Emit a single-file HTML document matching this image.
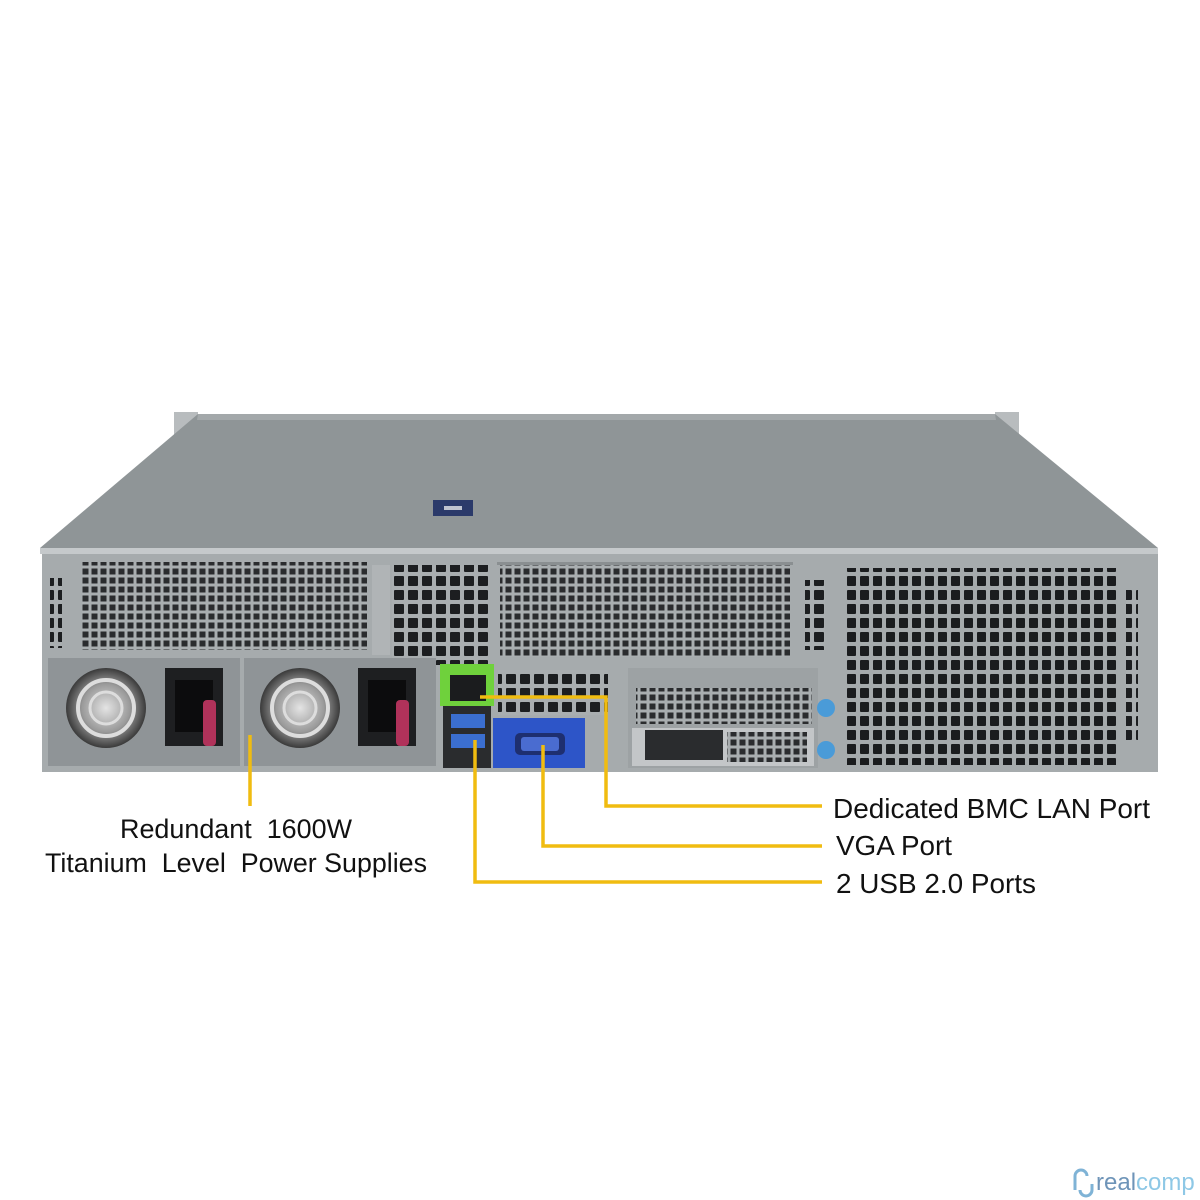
<!DOCTYPE html>
<html><head><meta charset="utf-8"><style>
html,body{margin:0;padding:0;background:#fff;}
svg{display:block}
text{font-family:"Liberation Sans",sans-serif;fill:#111}
</style></head><body>
<svg width="1200" height="1200" viewBox="0 0 1200 1200" xmlns="http://www.w3.org/2000/svg">
<defs>
<pattern id="g1" width="9" height="9" patternUnits="userSpaceOnUse"><rect width="9" height="9" fill="#a9aeb0"/><rect x="1.5" y="1.5" width="6" height="6" fill="#2a2c2e"/></pattern>
<pattern id="g2" width="14" height="14" patternUnits="userSpaceOnUse"><rect width="14" height="14" fill="#a9aeb0"/><rect x="2" y="2" width="10" height="10" rx="1" fill="#1c1e20"/></pattern>
<pattern id="g3" width="13" height="14" patternUnits="userSpaceOnUse"><rect width="13" height="14" fill="#a5aaac"/><rect x="2" y="2" width="9" height="10" rx="1" fill="#1a1c1e"/></pattern>
<radialGradient id="fan"><stop offset="0" stop-color="#e4e4e4"/><stop offset="0.6" stop-color="#9a9a9a"/><stop offset="1" stop-color="#3a3a3a"/></radialGradient>
</defs>
<rect width="1200" height="1200" fill="#fff"/>
<rect x="174" y="412" width="24" height="24" fill="#b8bcbe"/>
<rect x="995" y="412" width="24" height="24" fill="#b8bcbe"/>
<polygon points="198,414 995,414 1158,548 40,548" fill="#8f9597"/>
<polygon points="198,414 995,414 996,420 197,420" fill="#a3a8aa"/>
<rect x="433" y="500" width="40" height="16" fill="#2b3a6a"/>
<rect x="444" y="506" width="18" height="4" fill="#c0c4d0"/>
<rect x="40" y="548" width="1118" height="6" fill="#c5c9cb"/>
<rect x="42" y="554" width="1116" height="218" fill="#a6abad"/>
<rect x="50" y="578" width="12" height="70" fill="url(#g2)"/>
<rect x="82" y="562" width="285" height="88" fill="url(#g1)"/>
<rect x="372" y="565" width="18" height="90" fill="#b0b4b6"/>
<rect x="392" y="565" width="96" height="100" fill="url(#g2)"/>
<rect x="500" y="565" width="290" height="92" fill="url(#g1)"/>
<rect x="497" y="562" width="296" height="3" fill="#8a8f91"/>
<rect x="846" y="568" width="272" height="197" fill="url(#g3)"/>
<rect x="1126" y="590" width="12" height="150" fill="url(#g2)"/>
<rect x="805" y="580" width="20" height="70" fill="url(#g2)"/>
<rect x="48" y="658" width="192" height="108" fill="#8f9497"/>
<rect x="244" y="658" width="192" height="108" fill="#8f9497"/>
<circle cx="106" cy="708" r="40" fill="url(#fan)"/>
<circle cx="106" cy="708" r="28" fill="none" stroke="#ddd" stroke-width="4"/>
<circle cx="106" cy="708" r="16" fill="none" stroke="#ddd" stroke-width="3"/>
<circle cx="300" cy="708" r="40" fill="url(#fan)"/>
<circle cx="300" cy="708" r="28" fill="none" stroke="#ddd" stroke-width="4"/>
<circle cx="300" cy="708" r="16" fill="none" stroke="#ddd" stroke-width="3"/>
<rect x="165" y="668" width="58" height="78" fill="#1e1f21"/>
<rect x="175" y="680" width="38" height="52" fill="#0c0c0d"/>
<rect x="203" y="700" width="13" height="46" rx="4" fill="#b0325a"/>
<rect x="358" y="668" width="58" height="78" fill="#1e1f21"/>
<rect x="368" y="680" width="38" height="52" fill="#0c0c0d"/>
<rect x="396" y="700" width="13" height="46" rx="4" fill="#b0325a"/>
<rect x="440" y="664" width="54" height="42" fill="#6fd13c"/>
<rect x="450" y="675" width="36" height="26" fill="#1b1c1e"/>
<rect x="443" y="706" width="48" height="62" fill="#2a2c2e"/>
<rect x="451" y="714" width="34" height="14" fill="#3b6fd0"/>
<rect x="451" y="734" width="34" height="14" fill="#3b6fd0"/>
<rect x="498" y="670" width="110" height="45" fill="url(#g2)"/>
<rect x="493" y="718" width="92" height="50" fill="#2d55c8"/>
<rect x="515" y="733" width="50" height="22" rx="5" fill="#1e2f70"/>
<rect x="521" y="737" width="38" height="14" rx="3" fill="#4a6cd0"/>
<rect x="628" y="668" width="190" height="100" fill="#9da2a4"/>
<rect x="636" y="688" width="176" height="36" fill="url(#g1)"/>
<rect x="632" y="728" width="182" height="38" fill="#c3c6c8"/>
<rect x="645" y="730" width="78" height="30" fill="#2a2c2e"/>
<rect x="727" y="732" width="80" height="30" fill="url(#g1)"/>
<circle cx="826" cy="708" r="9" fill="#4a9bd8"/>
<circle cx="826" cy="750" r="9" fill="#4a9bd8"/>
<g stroke="#f0bc10" stroke-width="3.5" fill="none">
<line x1="250" y1="735" x2="250" y2="806"/>
<polyline points="480,697 606,697 606,806 822,806"/>
<polyline points="543,745 543,846 822,846"/>
<polyline points="475,740 475,882 822,882"/>
</g>
<text x="833" y="818" font-size="28" textLength="317" lengthAdjust="spacingAndGlyphs">Dedicated BMC LAN Port</text>
<text x="836" y="855" font-size="28" textLength="116" lengthAdjust="spacingAndGlyphs">VGA Port</text>
<text x="836" y="893" font-size="28" textLength="200" lengthAdjust="spacingAndGlyphs">2 USB 2.0 Ports</text>
<text x="120" y="838" font-size="27" textLength="232" lengthAdjust="spacingAndGlyphs" xml:space="preserve">Redundant  1600W</text>
<text x="45" y="872" font-size="27" textLength="382" lengthAdjust="spacingAndGlyphs" xml:space="preserve">Titanium  Level  Power Supplies</text>
<path d="M1075,1190 v-14 a6,6 0 0 1 12,0 M1080,1190 a6,6 0 0 0 12,0 v-6" stroke="#7fb3d6" stroke-width="3" fill="none"/>
<text x="1096" y="1190" font-size="24" style="fill:#6e94b8">real<tspan style="fill:#8ec8e6">comp</tspan></text>
</svg>
</body></html>
